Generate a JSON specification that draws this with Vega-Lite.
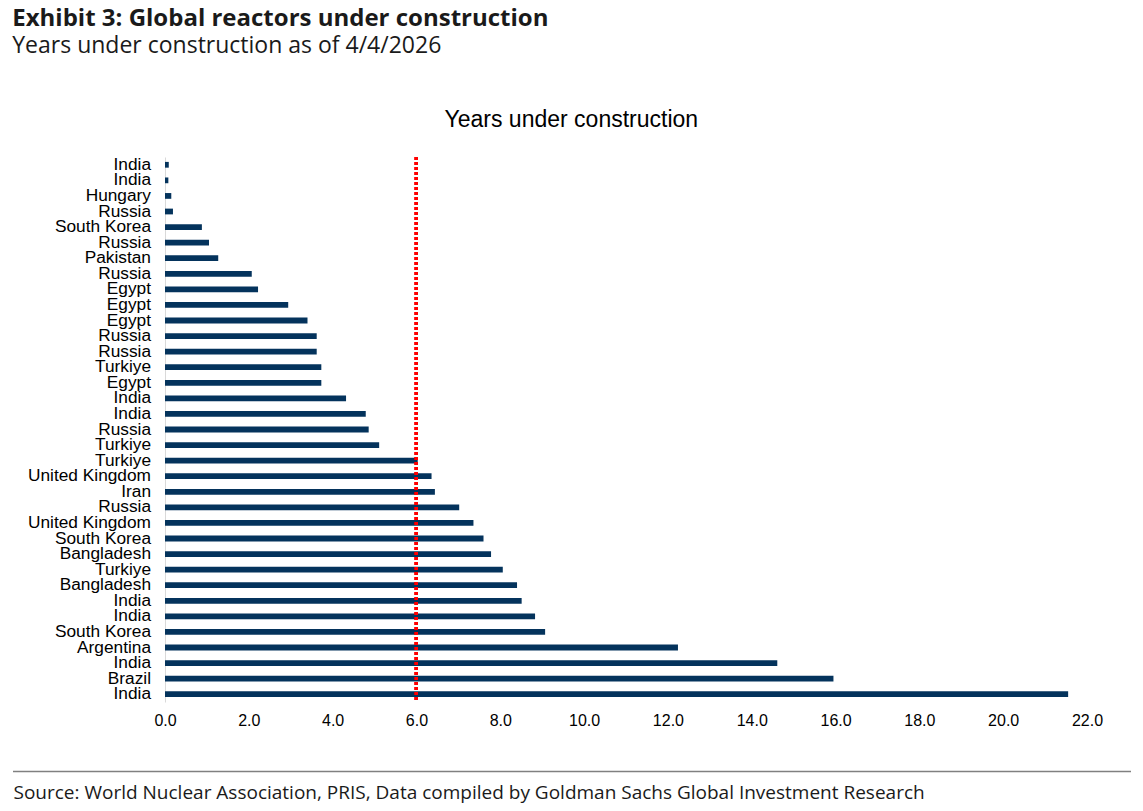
{
  "$schema": "https://vega.github.io/schema/vega-lite/v6.json",
  "background": "white",
  "padding": {"left": 12, "right": 10, "top": 6, "bottom": 5},
  "title": {
    "text": "Exhibit 3: Global reactors under construction",
    "subtitle": "Years under construction as of 4/4/2026",
    "anchor": "start",
    "frame": "bounds",
    "font": "Open Sans",
    "fontSize": 24,
    "fontWeight": "bold",
    "color": "#1a1a1a",
    "subtitleFont": "Open Sans",
    "subtitleFontSize": 23,
    "subtitleColor": "#1a1a1a",
    "subtitlePadding": 4,
    "offset": 51
  },
  "config": {"view": {"stroke": null}, "concat": {"spacing": 42}},
  "vconcat": [
    {
      "width": 922,
      "height": 545,
      "title": {
        "text": "Years under construction",
        "anchor": "middle",
        "frame": "bounds",
        "dx": 6,
        "font": "Liberation Sans",
        "fontSize": 23,
        "fontWeight": "normal",
        "color": "#000000",
        "offset": 24
      },
      "data": {
        "values": [
          {"id": 1, "country": "India", "years": 0.09},
          {"id": 2, "country": "India", "years": 0.08},
          {"id": 3, "country": "Hungary", "years": 0.15},
          {"id": 4, "country": "Russia", "years": 0.19},
          {"id": 5, "country": "South Korea", "years": 0.88},
          {"id": 6, "country": "Russia", "years": 1.05},
          {"id": 7, "country": "Pakistan", "years": 1.27},
          {"id": 8, "country": "Russia", "years": 2.07},
          {"id": 9, "country": "Egypt", "years": 2.22},
          {"id": 10, "country": "Egypt", "years": 2.94},
          {"id": 11, "country": "Egypt", "years": 3.4},
          {"id": 12, "country": "Russia", "years": 3.62},
          {"id": 13, "country": "Russia", "years": 3.62},
          {"id": 14, "country": "Turkiye", "years": 3.73},
          {"id": 15, "country": "Egypt", "years": 3.73},
          {"id": 16, "country": "India", "years": 4.32},
          {"id": 17, "country": "India", "years": 4.79},
          {"id": 18, "country": "Russia", "years": 4.86},
          {"id": 19, "country": "Turkiye", "years": 5.11},
          {"id": 20, "country": "Turkiye", "years": 6.03},
          {"id": 21, "country": "United Kingdom", "years": 6.36},
          {"id": 22, "country": "Iran", "years": 6.44},
          {"id": 23, "country": "Russia", "years": 7.02},
          {"id": 24, "country": "United Kingdom", "years": 7.36},
          {"id": 25, "country": "South Korea", "years": 7.6},
          {"id": 26, "country": "Bangladesh", "years": 7.78},
          {"id": 27, "country": "Turkiye", "years": 8.06},
          {"id": 28, "country": "Bangladesh", "years": 8.4},
          {"id": 29, "country": "India", "years": 8.51},
          {"id": 30, "country": "India", "years": 8.83},
          {"id": 31, "country": "South Korea", "years": 9.07},
          {"id": 32, "country": "Argentina", "years": 12.24},
          {"id": 33, "country": "India", "years": 14.61},
          {"id": 34, "country": "Brazil", "years": 15.95},
          {"id": 35, "country": "India", "years": 21.55}
        ]
      },
      "layer": [
        {
          "mark": {"type": "bar", "color": "#04335c"},
          "encoding": {
            "y": {
              "field": "id",
              "type": "ordinal",
              "sort": "ascending",
              "scale": {"paddingInner": 0.63, "paddingOuter": 0.315},
              "axis": {
                "labels": false,
                "ticks": false,
                "title": null,
                "domainColor": "#d9d9d9",
                "domainWidth": 1
              }
            },
            "x": {
              "field": "years",
              "type": "quantitative",
              "scale": {"domain": [0, 22], "nice": false},
              "axis": {
                "values": [0, 2, 4, 6, 8, 10, 12, 14, 16, 18, 20, 22],
                "format": ".1f",
                "grid": false,
                "domain": false,
                "ticks": false,
                "labelFlush": false,
                "labelFont": "Liberation Sans",
                "labelFontSize": 16,
                "labelColor": "#000000",
                "labelPadding": 10,
                "title": null
              }
            }
          }
        },
        {
          "mark": {
            "type": "text",
            "align": "right",
            "baseline": "middle",
            "dx": -14,
            "font": "Liberation Sans",
            "fontSize": 17.3,
            "color": "#000000"
          },
          "encoding": {
            "y": {"field": "id", "type": "ordinal", "sort": "ascending"},
            "x": {"datum": 0, "type": "quantitative"},
            "text": {"field": "country", "type": "nominal"}
          }
        },
        {
          "mark": {"type": "rule", "color": "#ff0000", "strokeWidth": 3, "strokeDash": [3, 2]},
          "encoding": {"x": {"datum": 6, "type": "quantitative"}}
        }
      ]
    },
    {
      "width": 966,
      "height": 1,
      "data": {"values": [{"source": "Source: World Nuclear Association, PRIS, Data compiled by Goldman Sachs Global Investment Research"}]},
      "mark": {"type": "rule", "color": "#808080", "strokeWidth": 1.5},
      "encoding": {
        "x": {
          "datum": -152,
          "type": "quantitative",
          "scale": {"domain": [0, 966], "nice": false, "zero": false},
          "axis": {
            "orient": "bottom",
            "domain": false,
            "ticks": false,
            "labels": false,
            "grid": false,
            "title": "Source: World Nuclear Association, PRIS, Data compiled by Goldman Sachs Global Investment Research",
            "titleAnchor": "start",
            "titleAlign": "left",
            "titleX": -152,
            "titleFont": "Open Sans",
            "titleFontSize": 19,
            "titleFontWeight": "normal",
            "titleColor": "#1a1a1a",
            "titlePadding": 11
          }
        },
        "x2": {"datum": 966}
      }
    }
  ]
}
